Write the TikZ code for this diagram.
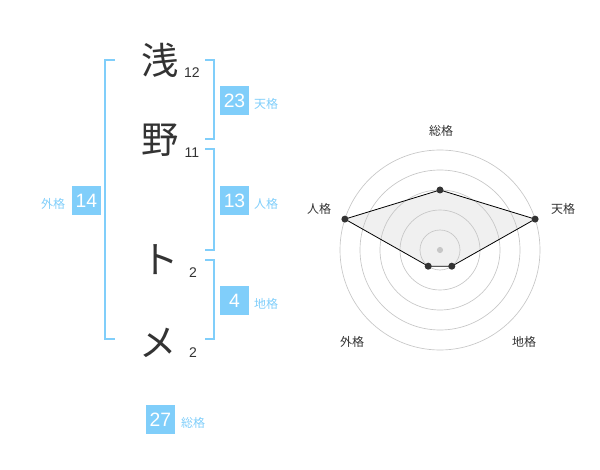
\documentclass[tikz,border=0pt]{standalone}
\usepackage{fontspec}
\setmainfont{Liberation Sans}
\newfontfamily\jpfont{Noto Sans CJK JP}
\usepackage{xcolor}
\usetikzlibrary{positioning}
\definecolor{kakublue}{RGB}{128,206,250}
\definecolor{inkgray}{RGB}{51,51,51}
\tikzstyle{moji} = [font=\jpfont\fontsize{28}{28}\selectfont, text=inkgray, inner sep=0pt]
\tikzstyle{kakusu} = [font=\fontsize{10.5}{10.5}\selectfont, text=inkgray, inner sep=0pt]
\tikzstyle{numbox} = [rectangle, fill=kakublue, text=white, minimum size=21.75pt, inner sep=0pt, font=\fontsize{14.5}{14.5}\selectfont]
\tikzstyle{kakuname} = [font=\jpfont\fontsize{9}{9}\selectfont, text=kakublue, inner sep=0pt]
\tikzstyle{bracket} = [draw=kakublue, line width=1.5pt]
\tikzstyle{ring} = [draw=black!22, line width=0.5pt]
\tikzstyle{dot} = [circle, fill=inkgray, inner sep=0pt, minimum size=5.25pt]
\tikzstyle{axislabel} = [font=\jpfont\fontsize{9}{9}\selectfont, text=inkgray, inner sep=0pt]

\begin{document}
\begin{tikzpicture}[x=0.75pt, y=-0.75pt]
		\useasboundingbox (0,0) rectangle (600,470);
		%名前の文字
		\node (asa) [moji] at (160,60) {浅};
		\node (no) [moji] at (160,140) {野};
		\node (to) [moji] at (160,260) {ト};
		\node (me) [moji] at (158,343) {メ};
		\node (asa-n) [kakusu] at (192,73) {12};
		\node (no-n) [kakusu] at (192,153) {11};
		\node (to-n) [kakusu] at (193,273) {2};
		\node (me-n) [kakusu] at (193,353) {2};
		
		%括弧
		\draw [bracket] (115,60) -- (105,60) -- (105,339) -- (115,339);
		\draw [bracket] (205,60) -- (214,60) -- (214,139) -- (205,139);
		\draw [bracket] (205,149) -- (214,149) -- (214,250) -- (205,250);
		\draw [bracket] (205,260) -- (214,260) -- (214,339) -- (205,339);
		
		%格の数
		\node (tenkaku) [numbox] at (234.5,100.5) {23};
		\node (jinkaku) [numbox] at (234.5,200.5) {13};
		\node (chikaku) [numbox] at (234.5,300.5) {4};
		\node (gaikaku) [numbox] at (86.5,200.5) {14};
		\node (soukaku) [numbox] at (160.5,419.5) {27};
		\node (tenkaku-l) [kakuname] at (266,104) {天格};
		\node (jinkaku-l) [kakuname] at (266,204) {人格};
		\node (chikaku-l) [kakuname] at (266,304) {地格};
		\node (gaikaku-l) [kakuname] at (53,204) {外格};
		\node (soukaku-l) [kakuname] at (193,423) {総格};
		
		%レーダーチャート
		\coordinate (c) at (440,250);
		\coordinate (p-sou) at (440,190);
		\coordinate (p-ten) at (535.1,219.1);
		\coordinate (p-chi) at (451.8,266.2);
		\coordinate (p-gai) at (428.2,266.2);
		\coordinate (p-jin) at (344.9,219.1);
		\fill [black!6] (p-sou) -- (p-ten) -- (p-chi) -- (p-gai) -- (p-jin) -- cycle;
		
		\draw [ring] (c) circle [radius=15pt];
		\draw [ring] (c) circle [radius=30pt];
		\draw [ring] (c) circle [radius=45pt];
		\draw [ring] (c) circle [radius=60pt];
		\draw [ring] (c) circle [radius=75pt];
		\fill [black!22] (c) circle [radius=2.3pt];
		
		\draw [black, line width=0.6pt] (p-sou) -- (p-ten) -- (p-chi) -- (p-gai) -- (p-jin) -- cycle;
		\node (d-sou) [dot] at (p-sou) {};
		\node (d-ten) [dot] at (p-ten) {};
		\node (d-chi) [dot] at (p-chi) {};
		\node (d-gai) [dot] at (p-gai) {};
		\node (d-jin) [dot] at (p-jin) {};
		
		\node (a-sou) [axislabel] at (441,131) {総格};
		\node (a-ten) [axislabel] at (563,209) {天格};
		\node (a-jin) [axislabel] at (319,209) {人格};
		\node (a-gai) [axislabel] at (352,342) {外格};
		\node (a-chi) [axislabel] at (524,342) {地格};
		
	\end{tikzpicture}
\end{document}
